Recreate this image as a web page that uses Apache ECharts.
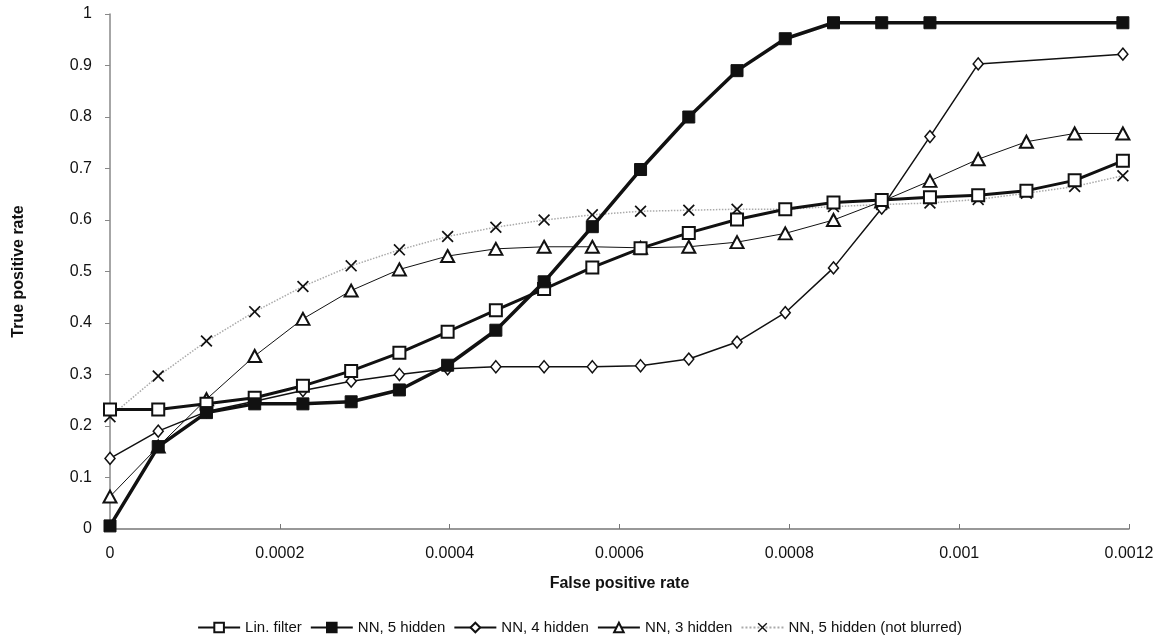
<!DOCTYPE html>
<html>
<head>
<meta charset="utf-8">
<script src="https://cdn.jsdelivr.net/npm/echarts@6/dist/echarts.min.js"></script>
<style>
  html, body { margin: 0; padding: 0; background: #fff; }
  #roc-chart { width: 1159px; height: 635px; }
</style>
</head>
<body>
<div id="roc-chart"></div>
<script>
// false positive rate at each operating point
const fpRates = [0, 0.0000568, 0.0001136, 0.0001704, 0.0002272, 0.000284, 0.0003408, 0.0003976,
  0.0004544, 0.0005112, 0.000568, 0.0006248, 0.0006816, 0.0007384, 0.0007952, 0.000852,
  0.0009088, 0.0009656, 0.0010224, 0.0010792, 0.001136, 0.0011928];

const seriesNames = ["Lin. filter", "NN, 5 hidden", "NN, 4 hidden", "NN, 3 hidden", "NN, 5 hidden (not blurred)"];

// true positive rates, null where the curve has no point
const linFilter = [0.232, 0.232, 0.243, 0.255, 0.278, 0.307, 0.342, 0.383, 0.425, 0.466, 0.508,
  0.545, 0.575, 0.601, 0.621, 0.634, 0.639, 0.644, 0.648, 0.657, 0.677, 0.715];
const nn5 = [0.006, 0.16, 0.226, 0.243, 0.243, 0.247, 0.27, 0.318, 0.386, 0.48, 0.587,
  0.698, 0.8, 0.89, 0.952, 0.983, 0.983, 0.983, null, null, null, 0.983];
const nn4 = [0.137, 0.19, 0.228, 0.248, 0.269, 0.287, 0.3, 0.311, 0.315, 0.315, 0.315,
  0.317, 0.33, 0.363, 0.42, 0.507, 0.623, 0.762, 0.903, null, null, 0.922];
const nn3 = [0.063, 0.16, 0.252, 0.336, 0.408, 0.463, 0.504, 0.53, 0.544, 0.548, 0.548,
  0.546, 0.548, 0.557, 0.574, 0.6, 0.636, 0.676, 0.718, 0.752, 0.768, 0.768];
const nn5NotBlurred = [0.218, 0.297, 0.365, 0.422, 0.471, 0.511, 0.542, 0.568, 0.586, 0.6, 0.61,
  0.617, 0.619, 0.621, 0.621, 0.626, 0.63, 0.633, 0.64, 0.652, 0.665, 0.686];

const xTickLabels = ["0", "0.0002", "0.0004", "0.0006", "0.0008", "0.001", "0.0012"];

function pairs(ys) {
  let out = [];
  ys.forEach((y, i) => {
    if (y !== null) out.push([fpRates[i], y]);
  });
  return out;
}

const crossPath = "path://M0,1L1,0L5,4L9,0L10,1L6,5L10,9L9,10L5,6L1,10L0,9L4,5Z";

let chart = echarts.init(document.getElementById("roc-chart"));
let option = {
  backgroundColor: "#fff",
  animation: false,
  textStyle: { fontFamily: "Liberation Sans, Arial, sans-serif" },
  grid: { left: 110, right: 30, top: 14, bottom: 106 },
  legend: {
    bottom: 0,
    padding: 0,
    left: "center",
    itemWidth: 42,
    itemHeight: 12,
    itemGap: 8,
    textStyle: { fontSize: 15, color: "#111" },
    data: seriesNames
  },
  xAxis: {
    type: "value",
    min: 0,
    max: 0.0012,
    interval: 0.0002,
    name: "False positive rate",
    nameLocation: "middle",
    nameGap: 47,
    nameTextStyle: { fontSize: 16, fontWeight: "bold", color: "#111" },
    splitLine: { show: false },
    axisLine: { lineStyle: { color: "#777", width: 1.5 } },
    axisTick: { inside: true, length: 5, lineStyle: { color: "#777" } },
    axisLabel: {
      fontSize: 16,
      color: "#111",
      margin: 17,
      formatter: (v, i) => xTickLabels[i]
    }
  },
  yAxis: {
    type: "value",
    min: 0,
    max: 1,
    interval: 0.1,
    name: "True positive rate",
    nameLocation: "middle",
    nameGap: 83,
    nameTextStyle: { fontSize: 16, fontWeight: "bold", color: "#111" },
    splitLine: { show: false },
    axisLine: { show: true, lineStyle: { color: "#888", width: 1.5 } },
    axisTick: { show: true, length: 5, lineStyle: { color: "#888" } },
    axisLabel: { fontSize: 16, color: "#111", margin: 18 }
  },
  series: [
    {
      name: seriesNames[0],
      type: "line",
      data: pairs(linFilter),
      symbol: "rect",
      symbolSize: 12,
      lineStyle: { color: "#111", width: 3 },
      itemStyle: { color: "#fff", borderColor: "#111", borderWidth: 2 },
      z: 4
    },
    {
      name: seriesNames[1],
      type: "line",
      data: pairs(nn5),
      symbol: "rect",
      symbolSize: 12,
      lineStyle: { color: "#111", width: 3.5 },
      itemStyle: { color: "#111", borderColor: "#111", borderWidth: 1 },
      z: 5
    },
    {
      name: seriesNames[2],
      type: "line",
      data: pairs(nn4),
      symbol: "diamond",
      symbolSize: [10, 12],
      lineStyle: { color: "#111", width: 1.5 },
      itemStyle: { color: "#fff", borderColor: "#111", borderWidth: 1.5 },
      z: 3
    },
    {
      name: seriesNames[3],
      type: "line",
      data: pairs(nn3),
      symbol: "triangle",
      symbolSize: [13, 12],
      lineStyle: { color: "#111", width: 1 },
      itemStyle: { color: "#fff", borderColor: "#111", borderWidth: 2 },
      z: 2
    },
    {
      name: seriesNames[4],
      type: "line",
      data: pairs(nn5NotBlurred),
      symbol: crossPath,
      symbolSize: 12,
      lineStyle: { color: "#aaa", width: 1.5, type: "dotted" },
      itemStyle: { color: "#111" },
      z: 1
    }
  ]
};
chart.setOption(option);
</script>
</body>
</html>
